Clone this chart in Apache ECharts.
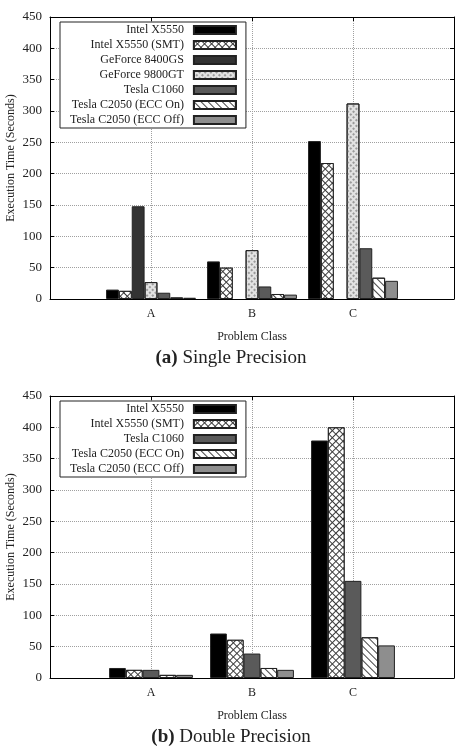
<!DOCTYPE html>
<html>
<head>
<meta charset="utf-8">
<script src="https://cdn.jsdelivr.net/npm/echarts@6/dist/echarts.min.js"></script>
<style>
html,body{margin:0;padding:0;background:#fff}
#main{width:459px;height:747px}
</style>
</head>
<body>
<div id="main"></div>
<script>
// problem classes
const classes = ['A', 'B', 'C']
const yTicks = [0, 50, 100, 150, 200, 250, 300, 350, 400, 450]

// (a) single precision, seconds
const spIntel = [15, 60, 252]
const spIntelSmt = [13, 50, 217]
const spGf8400 = [148, null, null]
const spGf9800 = [27, 78, 312]
const spC1060 = [10, 20, 81]
const spC2050On = [2.5, 8, 34]
const spC2050Off = [2, 7, 29]

// (b) double precision, seconds
const dpIntel = [16, 71, 379]
const dpIntelSmt = [13, 61, 400]
const dpC1060 = [13, 39, 155]
const dpC2050On = [5, 16, 65]
const dpC2050Off = [5, 13, 52]

const FONT = '"Liberation Serif", "DejaVu Serif", serif'

// look of each device (gray levels + hatch patterns)
const looks = {
  'Intel X5550': { color: '#000' },
  'Intel X5550 (SMT)': {
    color: '#3a3a3a',
    decal: { symbol: 'rect', symbolSize: 1, color: '#fff', dashArrayX: [4, 1], dashArrayY: [4, 1], rotation: Math.PI / 4 }
  },
  'GeForce 8400GS': { color: '#333' },
  'GeForce 9800GT': {
    color: '#e2e2e2',
    decal: { symbol: 'rect', symbolSize: 1, color: '#9a9a9a', dashArrayX: [1.5, 1.5], dashArrayY: [1.5, 1.5], rotation: Math.PI / 4 }
  },
  'Tesla C1060': { color: '#5a5a5a' },
  'Tesla C2050 (ECC On)': {
    color: '#fff',
    decal: { symbol: 'rect', symbolSize: 1, color: '#444', dashArrayX: [1, 0], dashArrayY: [1, 4], rotation: Math.PI / 4 }
  },
  'Tesla C2050 (ECC Off)': { color: '#8e8e8e' }
}

const panels = [
  {
    caption: '{b|(a)} Single Precision',
    top: 17,
    gap: '11%',
    series: [
      ['Intel X5550', spIntel],
      ['Intel X5550 (SMT)', spIntelSmt],
      ['GeForce 8400GS', spGf8400],
      ['GeForce 9800GT', spGf9800],
      ['Tesla C1060', spC1060],
      ['Tesla C2050 (ECC On)', spC2050On],
      ['Tesla C2050 (ECC Off)', spC2050Off]
    ]
  },
  {
    caption: '{b|(b)} Double Precision',
    top: 396,
    gap: '17%',
    series: [
      ['Intel X5550', dpIntel],
      ['Intel X5550 (SMT)', dpIntelSmt],
      ['Tesla C1060', dpC1060],
      ['Tesla C2050 (ECC On)', dpC2050On],
      ['Tesla C2050 (ECC Off)', dpC2050Off]
    ]
  }
]

const PLOT_H = 282
const cats = [''].concat(classes, [''])
const gridLine = { show: true, lineStyle: { color: '#a0a0a0', type: 'dotted', width: 1 } }
const blackLine = { show: true, onZero: false, lineStyle: { color: '#000', width: 1 } }
const inTick = { show: true, inside: true, length: 4, lineStyle: { color: '#000' } }

let grid = [], xAxis = [], yAxis = [], series = [], legend = [], graphic = []

panels.forEach((p, i) => {
  grid.push({ left: 50, right: 5, top: p.top, height: PLOT_H, outerBoundsMode: 'none', containLabel: false })
  xAxis.push({
    gridIndex: i, type: 'category', data: cats, boundaryGap: false,
    axisLine: blackLine, axisTick: Object.assign({ interval: 0 }, inTick),
    axisLabel: { interval: 0, fontFamily: FONT, fontSize: 12, color: '#222', margin: 9 },
    splitLine: Object.assign({ interval: 0 }, gridLine),
    name: 'Problem Class', nameLocation: 'middle', nameGap: 32, nameMoveOverlap: false,
    nameTextStyle: { fontFamily: FONT, fontSize: 12, color: '#222' }
  })
  xAxis.push({
    gridIndex: i, type: 'category', data: cats, boundaryGap: false, position: 'top',
    axisLine: blackLine, axisTick: Object.assign({ interval: 0 }, inTick),
    axisLabel: { show: false }, splitLine: { show: false }
  })
  yAxis.push({
    gridIndex: i, type: 'value', min: yTicks[0], max: yTicks[yTicks.length - 1], interval: 50,
    axisLine: blackLine, axisTick: inTick,
    axisLabel: { fontFamily: FONT, fontSize: 13, color: '#222', margin: 8 },
    splitLine: gridLine,
    name: 'Execution Time (Seconds)', nameLocation: 'middle', nameGap: 33, nameMoveOverlap: false,
    nameTextStyle: { fontFamily: FONT, fontSize: 12, color: '#222' }
  })
  yAxis.push({
    gridIndex: i, type: 'value', min: yTicks[0], max: yTicks[yTicks.length - 1], interval: 50, position: 'right',
    axisLine: blackLine, axisTick: inTick, axisLabel: { show: false }, splitLine: { show: false }
  })
  p.series.forEach(([name, vals]) => {
    let look = looks[name]
    series.push({
      type: 'bar', name: name,
      xAxisIndex: i * 2, yAxisIndex: i * 2,
      data: [null].concat(vals, [null]),
      barGap: '0%', barCategoryGap: p.gap,
      itemStyle: { color: look.color, decal: look.decal, borderColor: '#222', borderWidth: 1 },
      emphasis: { disabled: true },
      animation: false
    })
  })
  legend.push({
    orient: 'vertical', left: 60, top: p.top + 5, align: 'right',
    icon: 'rect', itemWidth: 42, itemHeight: 8, itemGap: 3,
    padding: [2, 9, 2, 10],
    backgroundColor: '#fff', borderColor: '#222', borderWidth: 1,
    selectedMode: false,
    textStyle: { fontFamily: FONT, fontSize: 12, color: '#222', lineHeight: 12, padding: [0, 5, 0, 0] },
    data: p.series.map(s => s[0])
  })
  graphic.push({
    type: 'text', x: 231, y: p.top + PLOT_H + 59,
    style: {
      text: p.caption, fill: '#222', font: '19px ' + FONT,
      align: 'center', verticalAlign: 'middle',
      rich: { b: { fontWeight: 'bold', fontSize: 19, fontFamily: FONT, fill: '#222' } }
    }
  })
})

let myChart = echarts.init(document.getElementById('main'))
myChart.setOption({ animation: false, grid, xAxis, yAxis, series, legend, graphic })
</script>
</body>
</html>
